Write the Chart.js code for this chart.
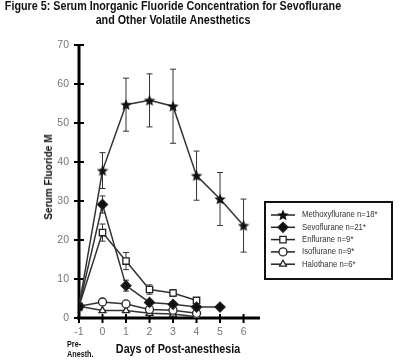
<!DOCTYPE html>
<html>
<head>
<meta charset="utf-8">
<script src="https://cdn.jsdelivr.net/npm/chart.js@4.4.1/dist/chart.umd.min.js"></script>
<style>
  html, body { margin: 0; padding: 0; background: #fff; }
  #wrap { position: relative; width: 400px; height: 362px; overflow: hidden; }
  #chart { position: absolute; left: 0; top: 0; }
  .lbl { position: absolute; font-family: "Liberation Sans", Arial, sans-serif; font-weight: bold; color: #111; white-space: nowrap; }
</style>
</head>
<body>
<div id="wrap">
  <canvas id="chart" width="400" height="362"></canvas>
  <div class="lbl" style="left:173px;top:13px;font-size:12.5px;line-height:14px;text-align:center;transform:translate(-50%,-50%) scaleX(0.86);">Figure 5: Serum Inorganic Fluoride Concentration for Sevoflurane<br>and Other Volatile Anesthetics</div>
  <div class="lbl" style="left:48px;top:177px;font-size:11.5px;transform:translate(-50%,-50%) rotate(-90deg) scaleX(0.88);">Serum Fluoride M</div>
  <div class="lbl" style="left:178px;top:349px;font-size:12.5px;transform:translate(-50%,-50%) scaleX(0.86);">Days of Post-anesthesia</div>
  <div class="lbl" style="left:67px;top:339px;font-size:8.5px;line-height:10px;transform:scaleX(0.85);transform-origin:left top;">Pre-<br>Anesth.</div>
</div>
<script>
const days = [-1, 0, 1, 2, 3, 4, 5, 6];
const yTicks = [0, 10, 20, 30, 40, 50, 60, 70];

const methoxyflurane = [3, 37.8, 54.7, 55.8, 54.3, 36.5, 30.5, 23.7];
const methoxyErr = [0, 4.6, 6.8, 6.8, 9.5, 6.3, 6.8, 6.8];
const sevoflurane = [3, 29.1, 8.3, 4.0, 3.5, 2.8, 2.8];
const sevoErr = [0, 2.2, 1.4, 0.6, 0.5, 0.4, 0];
const enflurane = [3, 21.9, 14.6, 7.3, 6.4, 4.5];
const enfluErr = [0, 2.2, 2.2, 1.2, 0.9, 0.4];
const isoflurane = [3, 4.1, 3.6, 2.2, 2.0, 1.2];
const halothane = [3, 1.9, 1.9, 1.2, 1.0, 0.3];

const legendLabels = [
  "Methoxyflurane n=18*",
  "Sevoflurane n=21*",
  "Enflurane n=9*",
  "Isoflurane n=9*",
  "Halothane n=6*",
];

const FONT = '"Liberation Sans", Arial, sans-serif';

function starImage(size) {
  const c = document.createElement("canvas");
  c.width = size;
  c.height = size;
  const g = c.getContext("2d");
  const r = size / 2;
  g.fillStyle = "#111";
  g.beginPath();
  for (let i = 0; i < 10; i++) {
    const rad = i % 2 === 0 ? r : r * 0.45;
    const a = -Math.PI / 2 + (i * Math.PI) / 5;
    const px = r + rad * Math.cos(a);
    const py = r + 0.5 + rad * Math.sin(a);
    if (i === 0) g.moveTo(px, py);
    else g.lineTo(px, py);
  }
  g.closePath();
  g.fill();
  return c;
}

const star = starImage(12);

function toPoints(values) {
  return values.map((v, i) => ({ x: days[i], y: v }));
}

const seriesStyle = [
  { pointStyle: star, radius: 5, bg: "#111" },
  { pointStyle: "rectRot", radius: 5, bg: "#111" },
  { pointStyle: "rect", radius: 4.5, bg: "#fff" },
  { pointStyle: "circle", radius: 4, bg: "#fff" },
  { pointStyle: "triangle", radius: 4, bg: "#fff" },
];

const allValues = [methoxyflurane, sevoflurane, enflurane, isoflurane, halothane];
const allErrors = [methoxyErr, sevoErr, enfluErr, null, null];

const datasets = allValues.map((vals, i) => ({
  label: legendLabels[i],
  data: toPoints(vals),
  borderColor: "#333",
  borderWidth: 1.5,
  pointStyle: seriesStyle[i].pointStyle,
  pointRadius: seriesStyle[i].radius,
  pointBackgroundColor: seriesStyle[i].bg,
  pointBorderColor: "#222",
  pointBorderWidth: 1.3,
  tension: 0,
  errors: allErrors[i],
}));

const extrasPlugin = {
  id: "extras",
  beforeDatasetsDraw(chart) {
    const ctx = chart.ctx;
    const x = chart.scales.x;
    const y = chart.scales.y;
    ctx.save();
    ctx.strokeStyle = "#333";
    ctx.lineWidth = 1;
    chart.data.datasets.forEach((ds) => {
      if (!ds.errors) return;
      ds.data.forEach((p, i) => {
        const e = ds.errors[i];
        if (!e) return;
        const px = x.getPixelForValue(p.x);
        const top = y.getPixelForValue(p.y + e);
        const bot = y.getPixelForValue(p.y - e);
        ctx.beginPath();
        ctx.moveTo(px, top);
        ctx.lineTo(px, bot);
        ctx.moveTo(px - 3, top);
        ctx.lineTo(px + 3, top);
        ctx.moveTo(px - 3, bot);
        ctx.lineTo(px + 3, bot);
        ctx.stroke();
      });
    });
    ctx.restore();
  },
  beforeDraw(chart) {
    const ctx = chart.ctx;
    const x = chart.scales.x;
    const y = chart.scales.y;
    const area = chart.chartArea;
    ctx.save();
    ctx.strokeStyle = "#000";
    ctx.lineWidth = 3;
    ctx.beginPath();
    ctx.moveTo(area.left, area.top);
    ctx.lineTo(area.left, area.bottom);
    ctx.moveTo(area.left - 2, area.bottom);
    ctx.lineTo(area.right, area.bottom);
    ctx.stroke();
    ctx.lineWidth = 2;
    ctx.beginPath();
    y.ticks.forEach((t) => {
      const py = y.getPixelForValue(t.value);
      ctx.moveTo(area.left - 5, py);
      ctx.lineTo(area.left + 5, py);
    });
    x.ticks.forEach((t) => {
      const px = x.getPixelForValue(t.value);
      ctx.moveTo(px, area.bottom - 4);
      ctx.lineTo(px, area.bottom + 5);
    });
    ctx.stroke();
    ctx.restore();
  },
  afterDraw(chart) {
    const ctx = chart.ctx;
    const bx = 265, by = 202, bw = 127, bh = 77;
    ctx.save();
    ctx.fillStyle = "#fff";
    ctx.fillRect(bx, by, bw, bh);
    ctx.strokeStyle = "#111";
    ctx.lineWidth = 2;
    ctx.strokeRect(bx, by, bw, bh);
    chart.data.datasets.forEach((ds, i) => {
      const ly = 215 + i * 12.3;
      ctx.strokeStyle = "#222";
      ctx.lineWidth = 1.5;
      ctx.beginPath();
      ctx.moveTo(271, ly);
      ctx.lineTo(295, ly);
      ctx.stroke();
      ctx.fillStyle = ds.pointBackgroundColor;
      ctx.strokeStyle = "#222";
      ctx.lineWidth = 1.3;
      Chart.helpers.drawPoint(ctx, {
        pointStyle: ds.pointStyle,
        radius: ds.pointRadius,
        rotation: 0,
        borderWidth: 1.3,
      }, 283, ly);
      ctx.save();
      ctx.translate(302, ly);
      ctx.scale(0.86, 1);
      ctx.fillStyle = "#333";
      ctx.font = "9px " + FONT;
      ctx.textBaseline = "middle";
      ctx.textAlign = "left";
      ctx.fillText(ds.label, 0, 0);
      ctx.restore();
    });
    ctx.restore();
  },
};

new Chart(document.getElementById("chart"), {
  type: "line",
  data: { datasets },
  options: {
    responsive: false,
    animation: false,
    layout: { padding: { left: 0, top: 45, right: 140, bottom: 0 } },
    plugins: { legend: { display: false }, tooltip: { enabled: false } },
    scales: {
      x: {
        type: "linear",
        min: -1,
        max: 6.7,
        grid: { display: false, drawTicks: false },
        border: { display: false },
        afterFit(scale) { scale.height = 44; },
        afterBuildTicks(scale) {
          scale.ticks = days.map((d) => ({ value: d }));
        },
        ticks: {
          color: "#777",
          font: { family: FONT, size: 10.5 },
          padding: 8,
          maxRotation: 0,
          autoSkip: false,
        },
      },
      y: {
        min: 0,
        max: 70,
        grid: { display: false, drawTicks: false },
        border: { display: false },
        afterFit(scale) { scale.width = 79; },
        afterBuildTicks(scale) {
          scale.ticks = yTicks.map((v) => ({ value: v }));
        },
        ticks: {
          color: "#777",
          font: { family: FONT, size: 10.5 },
          padding: 10,
        },
      },
    },
  },
  plugins: [extrasPlugin],
});
</script>
</body>
</html>
